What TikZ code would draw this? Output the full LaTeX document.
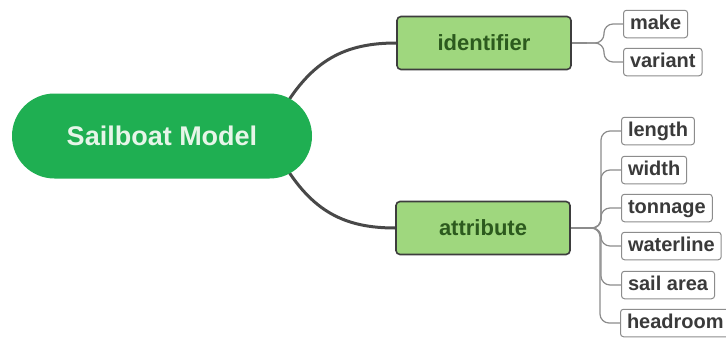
\documentclass[tikz,border=0pt]{standalone}
\usepackage{fontspec}
\setmainfont{Liberation Sans}
\usetikzlibrary{backgrounds}
\definecolor{rootgreen}{HTML}{1FAF52}
\definecolor{roottext}{HTML}{E6F5E8}
\definecolor{midfill}{HTML}{9FD77E}
\definecolor{midtext}{HTML}{2C5A1E}
\definecolor{midborder}{HTML}{3D3D3D}
\definecolor{mainline}{HTML}{484848}
\definecolor{leafline}{HTML}{8C8C8C}
\definecolor{leaftext}{HTML}{3A3A3A}
\begin{document}
\begin{tikzpicture}[x=1pt,y=-1pt,
  rootbox/.style={fill=rootgreen, rounded corners=42.5pt, minimum width=300pt, minimum height=85pt,
    text=roottext, font=\fontsize{27}{31}\selectfont\bfseries},
  midbox/.style={fill=midfill, draw=midborder, line width=1.6pt, rounded corners=4pt,
    minimum width=174pt, minimum height=53pt, text=midtext, font=\fontsize{22}{26}\selectfont\bfseries},
  leafbox/.style={fill=white, draw=leafline, line width=1pt, rounded corners=3pt, anchor=west,
    inner xsep=6.5pt, inner ysep=4pt, text height=15pt, text depth=4.5pt, text=leaftext,
    font=\fontsize{20}{24}\selectfont\bfseries},
  mainconn/.style={draw=mainline, line width=3pt},
  leafconn/.style={draw=leafline, line width=1.2pt, rounded corners=9pt}]
\useasboundingbox (0,0) rectangle (726,340);

\node[rootbox] (root) at (162,136) {Sailboat Model};
\node[midbox] (ident) at (484,43) {identifier};
\node[midbox] (attr) at (483,228) {attribute};

\node[leafbox] (make) at (623,24) {make};
\node[leafbox] (variant) at (623,62) {variant};

\node[leafbox] (length) at (621,131) {length};
\node[leafbox] (width) at (621,170) {width};
\node[leafbox] (tonnage) at (621,208) {tonnage};
\node[leafbox] (waterline) at (621,246) {waterline};
\node[leafbox] (sailarea) at (621,285) {sail area};
\node[leafbox] (headroom) at (620,323) {headroom};

\coordinate (s1) at (282,111);
\coordinate (s2) at (282,161);
\coordinate (ib) at (587,43);
\coordinate (ab) at (584,228);

\begin{scope}[on background layer]
  \fill[white] (0,0) rectangle (726,340);
  \draw[mainconn] (s1) .. controls (312,60) and (345,43) .. (ident.west);
  \draw[mainconn] (s2) .. controls (312,212) and (345,228) .. (attr.west);
  \draw[leafconn] (ident.east) -- (ib);
  \draw[leafconn] (attr.east) -- (ab);
  \foreach \c in {make,variant}
    \draw[leafconn] (ib) -| ([xshift=-19pt]\c.west) -- (\c.west);
  \foreach \c in {length,width,tonnage,waterline,sailarea,headroom}
    \draw[leafconn] (ab) -| ([xshift=-20pt]\c.west) -- (\c.west);
\end{scope}
\end{tikzpicture}
\end{document}
